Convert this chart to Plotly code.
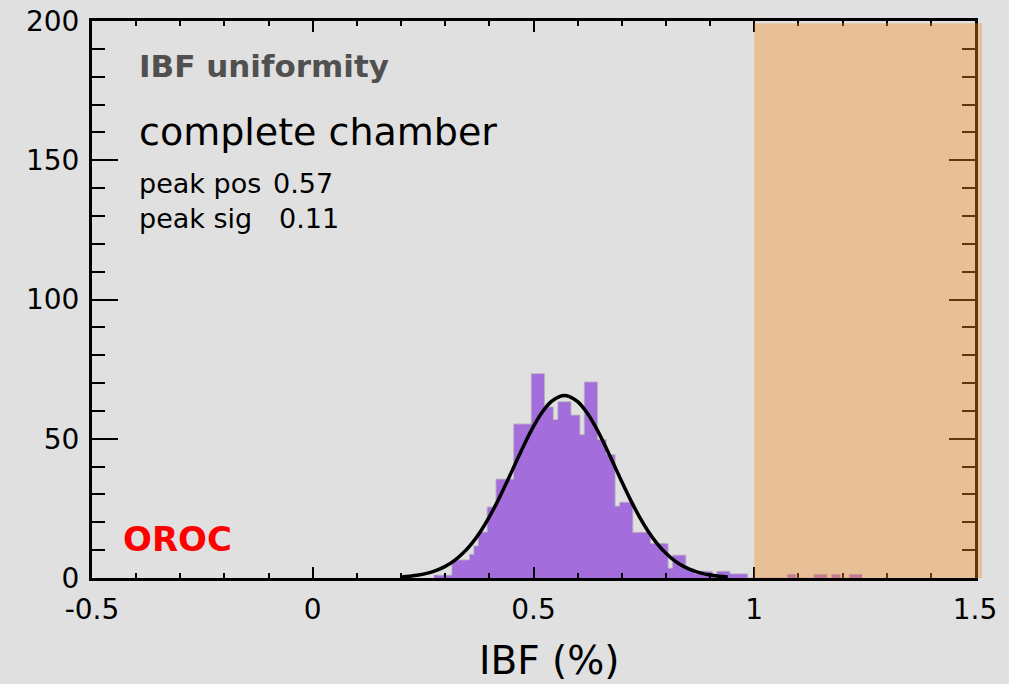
import plotly.graph_objects as go

# ---------------- data ----------------
bin_width = 0.01
first_bin_center = 0.28
counts = [
    1, 1, 1, 1,                      # 0.28-0.31
    6.5, 6.5, 6.5, 6.5,              # 0.32-0.35
    8.5, 11.5, 16.5, 16.5,           # 0.36-0.39
    25.5, 25.5,                      # 0.40-0.41
    35.5, 35.5, 35.5, 35.5,          # 0.42-0.45
    55.3, 55.3, 55.3, 55.3,          # 0.46-0.49
    73.4, 73.4, 73.4,                # 0.50-0.52
    61.4, 61.4, 56.9,                # 0.53-0.55
    63.3, 63.3, 63.3,                # 0.56-0.58
    58.5, 58.5, 51.5,                # 0.59-0.61
    70.4, 70.4, 70.4,                # 0.62-0.64
    49.7, 49.7, 44.3, 44.3,          # 0.65-0.68
    25.8, 27.2, 27.2, 27.2,          # 0.69-0.72
    16.4, 16.4, 16.4, 16.4,          # 0.73-0.76
    12.4, 12.4, 12.4, 12.4,          # 0.77-0.80
    3.5, 8.2, 8.2, 8.2,              # 0.81-0.84
    3.3, 3.3, 1.5,                   # 0.85-0.87
    2.4, 2.4, 2.4, 1,                # 0.88-0.91
    2.4, 2.4, 2.4,                   # 0.92-0.94
    1.5, 1.5, 1.5, 1.5,              # 0.95-0.98
    0, 0, 0, 0, 0, 0, 0, 0, 0,       # 0.99-1.07
    1.3, 1.3, 0, 0, 0, 0,            # 1.08-1.13
    1.3, 1.3, 1.3, 0,                # 1.14-1.17
    1.3, 1.3, 0, 0,                  # 1.18-1.21
    1.3, 1.3, 1.3,                   # 1.22-1.24
]
bin_centers = [round(first_bin_center + i * bin_width, 4) for i in range(len(counts))]

# Gaussian fit curve (peak pos 0.57, peak sig ~0.11)
fit_x = [0.20, 0.22, 0.24, 0.26, 0.28, 0.30, 0.32, 0.34, 0.36, 0.38, 0.40,
         0.42, 0.44, 0.46, 0.48, 0.50, 0.52, 0.54, 0.56, 0.57, 0.58, 0.60,
         0.62, 0.64, 0.66, 0.68, 0.70, 0.72, 0.74, 0.76, 0.78, 0.80, 0.82,
         0.84, 0.86, 0.88, 0.90, 0.92, 0.94]
fit_y = [0.37, 0.64, 1.07, 1.73, 2.72, 4.16, 6.17, 8.86, 12.37, 16.73, 21.96,
         27.97, 34.58, 41.46, 48.22, 54.42, 59.59, 63.31, 65.25, 65.5, 65.25, 63.31,
         59.59, 54.42, 48.22, 41.46, 34.58, 27.97, 21.96, 16.73, 12.37, 8.86, 6.17,
         4.16, 2.72, 1.73, 1.07, 0.64, 0.37]

x_tick_vals = [-0.5, 0, 0.5, 1, 1.5]
x_tick_text = ["-0.5", "0", "0.5", "1", "1.5"]
y_tick_vals = [0, 50, 100, 150, 200]
y_tick_text = ["0", "50", "100", "150", "200"]

x_range = [-0.5, 1.5]
y_range = [0, 200]
excluded_from = 1.0   # shaded region start (IBF %)

# ---------------- figure ----------------
BG = "#E0E0E0"
FONT = "DejaVu Sans"

fig = go.Figure()

fig.add_trace(go.Bar(
    x=bin_centers, y=counts, width=bin_width,
    marker=dict(color="#A36DDB", line=dict(width=0)),
    hoverinfo="skip",
))
fig.add_trace(go.Scatter(
    x=bin_centers, y=counts, mode="lines", line_shape="hvh",
    line=dict(color="#B9B2C4", width=1), hoverinfo="skip",
))
fig.add_trace(go.Scatter(
    x=fit_x, y=fit_y, mode="lines", line_shape="spline",
    line=dict(color="black", width=3.5), hoverinfo="skip",
))

axis_common = dict(
    showgrid=False, zeroline=False, showline=True, linecolor="black",
    linewidth=3, mirror="ticks", ticks="inside", tickcolor="black",
    tickwidth=2, tickfont=dict(family=FONT, size=28, color="black"),
    automargin=False,
)

fig.update_xaxes(
    range=x_range, tickmode="array", tickvals=x_tick_vals, ticktext=x_tick_text,
    ticklen=11, ticklabelstandoff=4,
    minor=dict(tickmode="linear", tick0=-0.5, dtick=0.1, ticklen=5,
               tickwidth=2, tickcolor="black", ticks="inside", showgrid=False),
    **axis_common,
)
fig.update_yaxes(
    range=y_range, tickmode="array", tickvals=y_tick_vals, ticktext=y_tick_text,
    ticklen=26, ticklabelstandoff=4,
    minor=dict(tickmode="linear", tick0=0, dtick=10, ticklen=13,
               tickwidth=2, tickcolor="black", ticks="inside", showgrid=False),
    **axis_common,
)

# shaded (excluded) region, drawn above everything
fig.add_shape(
    type="rect", xref="paper", yref="paper",
    x0=(excluded_from - x_range[0]) / (x_range[1] - x_range[0]), x1=1.008,
    y0=0, y1=0.996,
    fillcolor="#F48D26", opacity=0.39, line=dict(width=0), layer="above",
)

ann = []
ann.append(dict(text="<b>IBF uniformity</b>", x=-0.399, y=183.9, xref="x", yref="y",
                xanchor="left", yanchor="middle", showarrow=False,
                font=dict(family=FONT, size=31, color="#505050")))
ann.append(dict(text="complete chamber", x=-0.399, y=160.0, xref="x", yref="y",
                xanchor="left", yanchor="middle", showarrow=False,
                font=dict(family=FONT, size=38, color="black")))
ann.append(dict(text="peak pos", x=-0.399, y=141.5, xref="x", yref="y",
                xanchor="left", yanchor="middle", showarrow=False,
                font=dict(family=FONT, size=27, color="black")))
ann.append(dict(text="0.57", x=-0.0945, y=141.5, xref="x", yref="y",
                xanchor="left", yanchor="middle", showarrow=False,
                font=dict(family=FONT, size=27, color="black")))
ann.append(dict(text="peak sig", x=-0.399, y=129.0, xref="x", yref="y",
                xanchor="left", yanchor="middle", showarrow=False,
                font=dict(family=FONT, size=27, color="black")))
ann.append(dict(text="0.11", x=-0.081, y=129.0, xref="x", yref="y",
                xanchor="left", yanchor="middle", showarrow=False,
                font=dict(family=FONT, size=27, color="black")))
ann.append(dict(text="<b>OROC</b>", x=-0.434, y=14.0, xref="x", yref="y",
                xanchor="left", yanchor="middle", showarrow=False,
                font=dict(family=FONT, size=34, color="#FF0000")))
ann.append(dict(text="IBF (%)", x=0.536, y=-0.148, xref="x", yref="paper",
                xanchor="center", yanchor="middle", showarrow=False,
                font=dict(family=FONT, size=39, color="black")))

fig.update_layout(
    width=1009, height=684,
    margin=dict(l=92, r=34, t=21, b=106, autoexpand=False),
    paper_bgcolor=BG, plot_bgcolor=BG,
    showlegend=False, bargap=0, annotations=ann,
)

fig.write_html("out.html")
